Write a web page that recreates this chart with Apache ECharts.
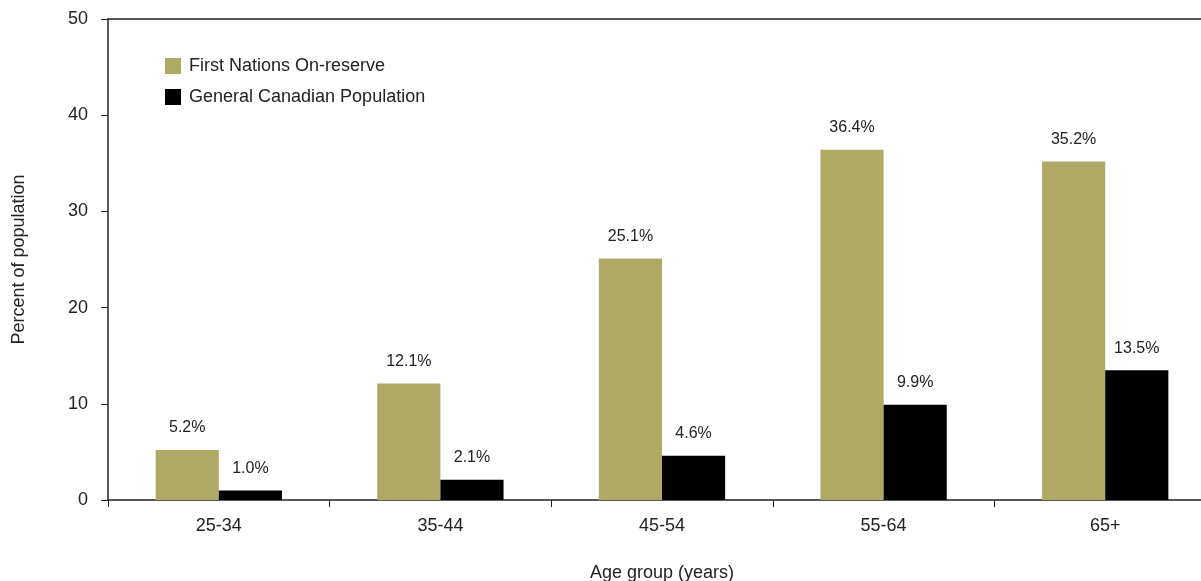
<!DOCTYPE html>
<html><head><meta charset="utf-8">
<script src="https://cdn.jsdelivr.net/npm/echarts@6/dist/echarts.min.js"></script>
<style>html,body{margin:0;padding:0;background:#fff}#c{width:1201px;height:581px}</style>
</head><body><div id="c"></div>
<script>
const categories = ['25-34','35-44','45-54','55-64','65+'];
const firstNations = [5.2, 12.1, 25.1, 36.4, 35.2];
const generalCanadian = [1.0, 2.1, 4.6, 9.9, 13.5];
const yTicks = [0, 10, 20, 30, 40, 50];

const font = 'Liberation Sans, Arial, sans-serif';
const chart = echarts.init(document.getElementById('c'));
const lbl = {
  show: true, position: 'top', distance: 14,
  formatter: p => p.value.toFixed(1) + '%',
  fontFamily: font, fontSize: 16, color: '#222'
};
chart.setOption({
  animation: false,
  textStyle: { fontFamily: font },
  grid: { left: 108, right: -15, top: 19, bottom: 81, containLabel: false, outerBoundsMode: 'none' },
  legend: {
    orient: 'vertical', left: 160, top: 52, itemWidth: 16, itemHeight: 16, itemGap: 13,
    icon: 'rect',
    textStyle: { fontFamily: font, fontSize: 18, color: '#222', padding: [0, 0, 0, 3] },
    data: ['First Nations On-reserve', 'General Canadian Population']
  },
  xAxis: [{
    type: 'category', data: categories,
    name: 'Age group (years)', nameLocation: 'middle', nameGap: 64,
    nameTextStyle: { fontFamily: font, fontSize: 18, color: '#222' },
    axisLine: { lineStyle: { color: '#222', width: 1.5 } },
    axisTick: { show: true, length: 7, lineStyle: { color: '#222' } },
    axisLabel: { margin: 17, fontFamily: font, fontSize: 18, color: '#222' }
  }, {
    type: 'category', data: categories, position: 'top',
    axisLine: { show: true, lineStyle: { color: '#222', width: 1.5 } },
    axisTick: { show: false }, axisLabel: { show: false }
  }],
  yAxis: {
    type: 'value', min: yTicks[0], max: yTicks[yTicks.length - 1], interval: 10,
    name: 'Percent of population', nameLocation: 'middle', nameGap: 80,
    nameTextStyle: { fontFamily: font, fontSize: 18, color: '#222' },
    axisLine: { show: true, lineStyle: { color: '#222', width: 1.5 } },
    axisTick: { show: true, length: 7, lineStyle: { color: '#222' } },
    axisLabel: { margin: 20, fontFamily: font, fontSize: 18, color: '#222' },
    splitLine: { show: false }
  },
  series: [
    { name: 'First Nations On-reserve', type: 'bar', data: firstNations,
      itemStyle: { color: '#AEA965' }, barGap: '0%', barCategoryGap: '43%', label: lbl },
    { name: 'General Canadian Population', type: 'bar', data: generalCanadian,
      itemStyle: { color: '#000000' }, label: lbl }
  ]
});
</script></body></html>
